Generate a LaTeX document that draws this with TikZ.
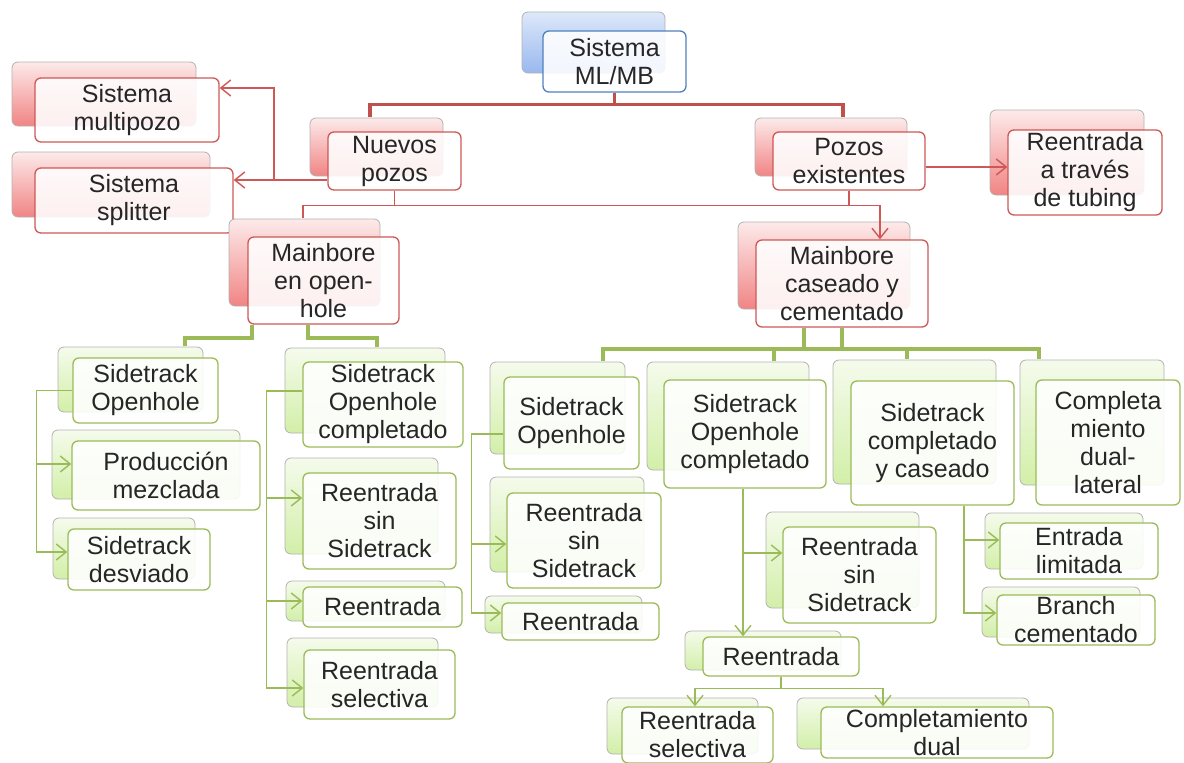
\documentclass[tikz,border=0pt]{standalone}
\usepackage{fontspec}
\setmainfont{Liberation Sans}
\usepackage{xcolor}
\usepackage{tikz}
\usetikzlibrary{shadows}
\usetikzlibrary{arrows.meta}

\definecolor{mlred}{RGB}{205,88,86}
\definecolor{mlredbus}{RGB}{192,80,77}
\definecolor{redtop}{RGB}{253,234,234}
\definecolor{redbot}{RGB}{241,132,132}
\definecolor{mlgreen}{RGB}{155,187,89}
\definecolor{greentop}{RGB}{245,251,236}
\definecolor{greenbot}{RGB}{210,239,168}
\definecolor{mlblue}{RGB}{79,129,189}
\definecolor{bluetop}{RGB}{222,232,250}
\definecolor{bluebot}{RGB}{152,184,238}

\tikzset{
	tile/.style={rectangle, rounded corners=6pt, align=center, fill=white, fill opacity=0.88, text opacity=1, line width=1.3pt, inner sep=1pt, text=black!85, font=\fontsize{25}{28}\selectfont},
	redtile/.style 2 args={tile, draw=mlred, general shadow={shadow xshift=#1, shadow yshift=#2, fill opacity=1, draw=black!30, line width=0.8pt, top color=redtop, bottom color=redbot}},
	greentile/.style 2 args={tile, draw=mlgreen, general shadow={shadow xshift=#1, shadow yshift=#2, fill opacity=1, draw=black!30, line width=0.8pt, top color=greentop, bottom color=greenbot}},
	bluetile/.style 2 args={tile, draw=mlblue, general shadow={shadow xshift=#1, shadow yshift=#2, fill opacity=1, draw=black!30, line width=0.8pt, top color=bluetop, bottom color=bluebot}},
	redbus/.style={draw=mlredbus, line width=3.5pt},
	greenbus/.style={draw=mlgreen, line width=4pt},
	redlink/.style={draw=mlred, line width=1.4pt},
	greenlink/.style={draw=mlgreen, line width=1.4pt},
}

\begin{document}
\begin{tikzpicture}[x=1pt, y=-1pt, >={Straight Barb[length=10pt,width=16pt]}]
		\useasboundingbox (0,0) rectangle (1184,763);

		% top levels
		\node at (614.5,61.5) (sis) [bluetile={-21pt}{19pt}, minimum width=143pt, minimum height=61pt] {Sistema\\ML/MB};
		\node at (394.5,161) (nuevos) [redtile={-18pt}{14pt}, minimum width=133pt, minimum height=58pt] {Nuevos\\pozos};
		\node at (849,161) (pozos) [redtile={-18pt}{14pt}, minimum width=152pt, minimum height=58pt] {Pozos\\existentes};
		\node at (127,110) (multi) [redtile={-23pt}{16pt}, minimum width=184pt, minimum height=64pt] {Sistema\\multipozo};
		\node at (134,200.5) (splitter) [redtile={-23pt}{16pt}, minimum width=198pt, minimum height=65pt] {Sistema\\splitter};
		\node at (1085,172.5) (tubing) [redtile={-18pt}{20pt}, minimum width=154pt, minimum height=85pt] {Reentrada\\a través\\de tubing};
		\node at (323.5,280.5) (openhole) [redtile={-19pt}{18pt}, minimum width=151pt, minimum height=87pt] {Mainbore\\en open-\\hole};
		\node at (842,283.5) (cased) [redtile={-18pt}{18pt}, minimum width=172pt, minimum height=87pt] {Mainbore\\caseado y\\cementado};

		% open hole side
		\node at (145.5,390.5) (stoL) [greentile={-15pt}{11pt}, minimum width=145pt, minimum height=65pt] {Sidetrack\\Openhole};
		\node at (166,475.5) (prodL) [greentile={-20pt}{11pt}, minimum width=188pt, minimum height=69pt] {Producción\\mezclada};
		\node at (139,559.5) (desvL) [greentile={-15pt}{11pt}, minimum width=142pt, minimum height=61pt] {Sidetrack\\desviado};
		\node at (383,404.5) (stocL) [greentile={-18pt}{14pt}, minimum width=160pt, minimum height=85pt] {Sidetrack\\Openhole\\completado};
		\node at (379.5,521) (rssL) [greentile={-18pt}{15pt}, minimum width=153pt, minimum height=96pt] {Reentrada\\sin\\Sidetrack};
		\node at (382.5,607) (reL) [greentile={-17pt}{6pt}, minimum width=159pt, minimum height=40pt] {Reentrada};
		\node at (379.5,684.5) (rselL) [greentile={-17pt}{12pt}, minimum width=151pt, minimum height=69pt] {Reentrada\\selectiva};

		% cased side
		\node at (571.5,423) (stoR) [greentile={-14pt}{15pt}, minimum width=135pt, minimum height=92pt] {Sidetrack\\Openhole};
		\node at (584,540.5) (rssR) [greentile={-17pt}{16pt}, minimum width=154pt, minimum height=95pt] {Reentrada\\sin\\Sidetrack};
		\node at (580.5,621.5) (reR) [greentile={-17pt}{7pt}, minimum width=157pt, minimum height=37pt] {Reentrada};
		\node at (745,434) (stocR) [greentile={-17pt}{18pt}, minimum width=162pt, minimum height=108pt] {Sidetrack\\Openhole\\completado};
		\node at (859.5,575) (rssC) [greentile={-17pt}{15pt}, minimum width=153pt, minimum height=96pt] {Reentrada\\sin\\Sidetrack};
		\node at (781,656.5) (reC) [greentile={-18pt}{6pt}, minimum width=156pt, minimum height=39pt] {Reentrada};
		\node at (697.5,735) (rselC) [greentile={-15pt}{9pt}, minimum width=151pt, minimum height=56pt] {Reentrada\\selectiva};
		\node at (937,732.5) (dual) [greentile={-24pt}{9pt}, minimum width=232pt, minimum height=51pt] {Completamiento\\dual};
		\node at (932.5,443) (stcc) [greentile={-18pt}{21pt}, minimum width=163pt, minimum height=124pt] {Sidetrack\\completado\\y caseado};
		\node at (1079,551) (entr) [greentile={-15pt}{10pt}, minimum width=158pt, minimum height=56pt] {Entrada\\limitada};
		\node at (1076,620) (branch) [greentile={-15pt}{8pt}, minimum width=158pt, minimum height=50pt] {Branch\\cementado};
		\node at (1108,442.5) (cdl) [greentile={-16pt}{20pt}, minimum width=144pt, minimum height=125pt] {Completa\\miento\\dual-\\lateral};

		% red links
		\draw[redbus] (sis.south) -- ++(0,12) -| ([xshift=-24.5pt,yshift=14pt]nuevos.north);
		\draw[redbus] (sis.south) -- ++(0,12) -| ([xshift=-6pt,yshift=14pt]pozos.north);
		\coordinate (fork) at (274,180);
		\draw[redlink,->] ([yshift=-19pt]nuevos.west) -- (fork) -- (fork -| splitter.east);
		\draw[redlink,->] (fork) |- ([yshift=22pt]multi.east);
		\draw[redlink] (nuevos.south) -- ++(0,15) -| ([xshift=-20.5pt,yshift=18pt]openhole.north);
		\draw[redlink,->] (nuevos.south) -- ++(0,15) -| ([xshift=38pt]cased.north);
		\draw[redlink] (pozos.south) -- ++(0,15);
		\draw[redlink,->] ([yshift=-6pt]pozos.east) -- ([yshift=-6pt]pozos.east -| tubing.west);

		% green buses
		\draw[greenbus] ([xshift=-71.5pt]openhole.south) -- ++(0,13) -| ([xshift=39.5pt,yshift=11pt]stoL.north);
		\draw[greenbus] ([xshift=-15.5pt]openhole.south) -- ++(0,13) -| ([xshift=-6pt,yshift=14pt]stocL.north);
		\draw[greenbus] ([xshift=-38pt]cased.south) -- ++(0,21);
		\foreach \n/\dx/\dy in {stoR/31.5/15, stocR/29/18, stcc/-25.5/21, cdl/-69/20}{
			\draw[greenbus] (cased.south) -- ++(0,21) -| ([xshift=\dx pt,yshift=\dy pt]\n.north);
		}

		% green links
		\foreach \n/\dy in {prodL/11.5, desvL/7.5}{
			\draw[greenlink,->] (stoL.west) -- ++(-36,0) |- ([yshift=\dy pt]\n.west);
		}
		\foreach \n/\dy in {rssL/23, reL/6, rselL/-3.5}{
			\draw[greenlink,->] ([yshift=13.5pt]stocL.west) -- ++(-36,0) |- ([yshift=\dy pt]\n.west);
		}
		\foreach \n/\dy in {rssR/-3.5, reR/8.5}{
			\draw[greenlink,->] ([yshift=-11pt]stoR.west) -- ++(-32,0) |- ([yshift=\dy pt]\n.west);
		}
		\draw[greenlink,->] ([xshift=-2pt]stocR.south) -- ([xshift=-38pt]reC.north);
		\draw[greenlink,->] ([xshift=-2pt]stocR.south) |- ([yshift=22pt]rssC.west);
		\foreach \n/\dx in {rselC/-2.5, dual/-54}{
			\draw[greenlink,->] (reC.south) -- ++(0,12) -| ([xshift=\dx pt]\n.north);
		}
		\foreach \n/\dy in {entr/11, branch/7}{
			\draw[greenlink,->] ([xshift=31.5pt]stcc.south) |- ([yshift=\dy pt]\n.west);
		}
	\end{tikzpicture}
\end{document}
